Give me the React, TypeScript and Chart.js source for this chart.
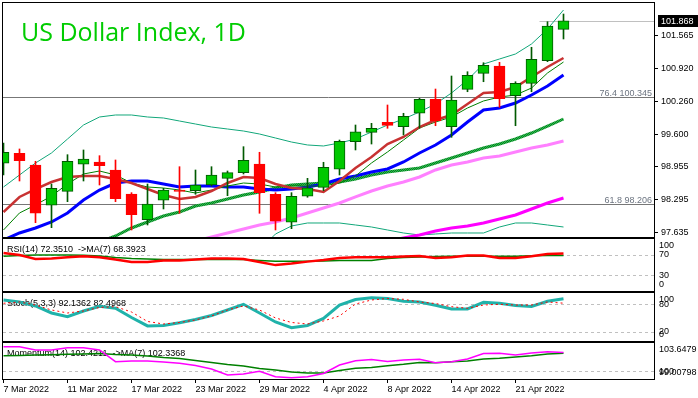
import React, { useEffect, useRef } from 'react';
import { Chart, registerables } from 'chart.js';
Chart.register(...registerables);

// ---------- data ----------
const dates = ['7 Mar 2022','8 Mar 2022','9 Mar 2022','10 Mar 2022','11 Mar 2022','14 Mar 2022','15 Mar 2022','16 Mar 2022','17 Mar 2022','18 Mar 2022','21 Mar 2022','22 Mar 2022','23 Mar 2022','24 Mar 2022','25 Mar 2022','28 Mar 2022','29 Mar 2022','30 Mar 2022','31 Mar 2022','1 Apr 2022','4 Apr 2022','5 Apr 2022','6 Apr 2022','7 Apr 2022','8 Apr 2022','11 Apr 2022','12 Apr 2022','13 Apr 2022','14 Apr 2022','18 Apr 2022','19 Apr 2022','20 Apr 2022','21 Apr 2022','22 Apr 2022','25 Apr 2022','26 Apr 2022'];
const dateTickIdx = [0, 4, 8, 12, 16, 20, 24, 28, 32];

const open = [99.019, 99.219, 98.985, 98.180, 98.459, 98.999, 99.045, 98.885, 98.406, 97.892, 98.280, 98.485, 98.471, 98.585, 98.719, 98.831, 99.005, 98.400, 97.840, 98.360, 98.539, 98.899, 99.450, 99.638, 99.838, 99.750, 100.018, 100.298, 99.750, 100.497, 100.817, 100.963, 100.370, 100.617, 101.069, 101.696];
const high = [99.424, 99.305, 99.059, 98.605, 99.191, 99.285, 99.171, 99.085, 98.432, 98.605, 98.519, 98.951, 98.885, 98.951, 98.865, 99.351, 99.239, 98.432, 98.432, 98.719, 99.039, 99.484, 99.784, 99.818, 100.184, 100.018, 100.318, 100.503, 100.763, 100.849, 101.029, 101.037, 100.649, 101.337, 101.848, 102.002];
const low = [98.785, 98.665, 97.832, 97.732, 98.252, 98.665, 98.585, 98.252, 97.686, 97.786, 98.106, 98.020, 98.400, 98.565, 98.372, 98.805, 98.020, 97.686, 97.712, 98.340, 98.471, 98.785, 99.285, 99.404, 99.718, 99.584, 99.718, 99.770, 99.538, 100.449, 100.649, 100.138, 99.770, 100.449, 101.049, 101.503];
const close = [99.239, 99.071, 98.020, 98.519, 99.059, 99.105, 98.971, 98.312, 97.992, 98.206, 98.485, 98.455, 98.585, 98.785, 98.831, 99.079, 98.432, 97.860, 98.360, 98.531, 98.939, 99.458, 99.650, 99.718, 99.778, 99.958, 100.298, 99.864, 100.284, 100.777, 100.977, 100.310, 100.617, 101.097, 101.762, 101.868];

const bbUpper = [98.545, 98.785, 99.025, 99.225, 99.504, 99.784, 99.944, 99.984, 99.984, 99.944, 99.924, 99.864, 99.804, 99.744, 99.704, 99.664, 99.604, 99.524, 99.444, 99.385, 99.365, 99.425, 99.504, 99.644, 99.784, 99.904, 100.044, 100.204, 100.424, 100.684, 101.003, 101.103, 101.203, 101.403, 101.702, 102.082];
const bbMid = [null, null, null, null, null, null, 97.447, 97.566, 97.726, 97.846, 97.966, 98.046, 98.166, 98.226, 98.305, 98.385, 98.445, 98.525, 98.585, 98.605, 98.625, 98.645, 98.705, 98.785, 98.845, 98.885, 98.925, 99.025, 99.125, 99.225, 99.325, 99.405, 99.504, 99.624, 99.764, 99.904];
const bbLower = [null, null, null, null, null, null, null, null, null, null, null, null, null, null, null, null, 97.287, 97.606, 97.766, 97.826, 97.826, 97.826, 97.786, 97.746, 97.686, 97.626, 97.586, 97.606, 97.626, 97.626, 97.626, 97.746, 97.826, 97.826, 97.786, 97.746];
const maRed = [98.046, 98.346, 98.505, 98.645, 98.745, 98.765, 98.765, 98.705, 98.625, 98.505, 98.385, 98.305, 98.346, 98.465, 98.625, 98.745, 98.725, 98.605, 98.525, 98.505, 98.445, 98.665, 98.925, 99.145, 99.404, 99.544, 99.744, 99.884, 99.984, 100.204, 100.424, 100.443, 100.543, 100.743, 100.943, 101.123];
const maThin = [97.686, 98.026, 98.186, 98.365, 98.605, 98.805, 98.865, 98.785, 98.625, 98.545, 98.525, 98.485, 98.425, 98.485, 98.565, 98.625, 98.605, 98.545, 98.565, 98.565, 98.565, 98.625, 98.765, 99.025, 99.245, 99.484, 99.724, 99.844, 99.944, 100.124, 100.264, 100.343, 100.383, 100.523, 100.823, 101.043];
const maBlue = [97.486, 97.626, 97.726, 97.846, 98.026, 98.286, 98.485, 98.625, 98.665, 98.665, 98.605, 98.545, 98.565, 98.565, 98.545, 98.545, 98.505, 98.485, 98.505, 98.545, 98.605, 98.705, 98.765, 98.845, 98.905, 99.045, 99.225, 99.385, 99.584, 99.844, 100.084, 100.124, 100.224, 100.383, 100.563, 100.783];
const maPink = [null, null, null, null, null, null, null, null, null, null, null, null, 97.467, 97.546, 97.626, 97.706, 97.786, 97.846, 97.926, 98.026, 98.126, 98.226, 98.346, 98.465, 98.565, 98.645, 98.745, 98.885, 98.985, 99.045, 99.125, 99.165, 99.245, 99.325, 99.385, 99.464];
const maMagenta = [null, null, null, null, null, null, null, null, null, null, null, null, null, null, null, null, null, null, null, null, null, null, null, null, 97.467, 97.526, 97.586, 97.666, 97.726, 97.766, 97.826, 97.906, 97.986, 98.106, 98.226, 98.325];

const priceTicks = [101.565, 100.920, 100.260, 99.600, 98.955, 98.295, 97.635];
const fibValues = [100.345, 98.206];
const fibLabels = ['76.4 100.345', '61.8 98.206'];
const lastPrice = 101.868;
const title = 'US Dollar Index, 1D';

const rsi = [72.9, 69.1, 61.4, 62.3, 64.8, 66.8, 64.8, 60.4, 55.9, 55.9, 58.5, 58.5, 60.4, 62.3, 62.3, 61.4, 55.6, 49.8, 52.7, 56.5, 59.4, 63.3, 64.8, 64.8, 64.8, 66.2, 67.1, 63.7, 64.8, 68.1, 68.1, 63.7, 63.7, 66.8, 71.0, 72.351];
const rsiMa = [66.8, 68.1, 69.1, 69.1, 69.1, 68.7, 67.1, 64.3, 62.3, 61.4, 60.4, 60.4, 60.4, 60.4, 60.4, 60.4, 58.5, 57.1, 57.1, 57.1, 57.9, 58.5, 58.5, 58.5, 62.3, 64.3, 65.6, 66.2, 66.8, 66.8, 66.8, 66.8, 66.8, 67.7, 68.1, 68.392];
const rsiLevels = [70, 30];
const rsiLabelVals = [100, 70, 30, 0];
const rsiCaption = 'RSI(14) 72.3510  ->MA(7) 68.3923';

const stochK = [89.5, 85.0, 76.4, 61.0, 52.9, 65.4, 75.7, 71.3, 51.2, 32.6, 33.7, 39.8, 46.8, 55.6, 67.6, 80.1, 61.0, 41.3, 28.8, 33.7, 49.0, 78.5, 90.6, 94.5, 92.8, 86.6, 85.1, 77.9, 69.8, 69.8, 84.5, 82.3, 77.4, 75.3, 86.6, 92.136];
const stochD = [82.3, 85.1, 78.5, 67.6, 61.0, 65.4, 73.1, 74.8, 63.2, 42.4, 36.9, 40.2, 45.7, 54.5, 67.6, 76.4, 67.6, 50.1, 40.2, 36.9, 43.5, 54.5, 80.7, 89.5, 92.8, 91.0, 85.1, 81.8, 74.8, 71.3, 78.5, 80.1, 78.5, 78.5, 85.1, 82.497];
const stochLevels = [80, 20];
const stochLabelVals = [100, 80, 20, 0];
const stochCaption = 'Stoch(5,3,3) 92.1362 82.4968';

const momentum = [103.171, 103.171, 102.746, 102.746, 103.042, 103.042, 102.746, 101.238, 101.328, 101.328, 101.199, 101.032, 100.748, 100.297, 99.524, 99.652, 100.0, 99.304, 99.175, 99.304, 99.717, 100.812, 101.367, 101.521, 101.264, 101.457, 101.547, 101.109, 101.238, 101.586, 102.295, 102.320, 102.101, 102.359, 102.527, 102.421];
const momMa = [102.011, 102.037, 102.101, 102.140, 102.191, 102.230, 102.295, 102.166, 102.101, 101.972, 101.779, 101.650, 101.392, 101.135, 100.877, 100.684, 100.361, 100.168, 99.910, 99.781, 99.781, 100.104, 100.387, 100.490, 100.722, 100.903, 101.135, 101.109, 101.238, 101.328, 101.586, 101.676, 101.843, 102.011, 102.230, 102.337];
const momLevels = [100];
const momLabelVals = [103.6479, 100, 99.00798];
const momLabelText = ['103.6479', '100', '99.00798'];
const momCaption = 'Momentum(14) 102.4211  ->MA(7) 102.3368';

// ---------- layout / style ----------
const W = 698, H = 398;
const FONT = '"Liberation Sans", Arial, sans-serif';
const AXIS_W = 44;
const X_MIN = -0.03125;
const X_MAX = X_MIN + 651 / 16;

const pts = (arr: (number | null)[]) => arr.map((v, i) => ({ x: i, y: v }));

function noPad(s: any) {
  s.paddingTop = 0; s.paddingBottom = 0; s.paddingLeft = 0; s.paddingRight = 0;
}

function stipple(): any {
  const c = document.createElement('canvas');
  c.width = 2; c.height = 2;
  const g = c.getContext('2d') as CanvasRenderingContext2D;
  g.fillStyle = '#087a24';
  g.fillRect(0, 0, 2, 2);
  g.fillStyle = '#2cc24c';
  g.fillRect(0, 0, 1, 1);
  g.fillRect(1, 1, 1, 1);
  return g.createPattern(c, 'repeat');
}

function xScale(show: boolean) {
  return {
    type: 'linear', min: X_MIN, max: X_MAX, offset: false, display: show,
    afterBuildTicks: (s: any) => { s.ticks = dateTickIdx.map((v) => ({ value: v })); },
    afterFit: (s: any) => { s.height = show ? 19 : 0; noPad(s); },
    grid: { display: true, drawOnChartArea: false, drawTicks: true, tickLength: 4, color: '#000', offset: false },
    border: { display: false },
    ticks: {
      autoSkip: false, maxRotation: 0, minRotation: 0, align: 'start', padding: 1, color: '#000',
      font: { family: FONT, size: 9 },
      callback: (v: any) => dates[Math.round(Number(v))] ?? '',
    },
  };
}

function hiddenY(min: number, max: number) {
  return {
    type: 'linear', position: 'right', min, max, display: true,
    afterFit: (s: any) => { s.width = AXIS_W; noPad(s); },
    grid: { display: false }, border: { display: false }, ticks: { display: false },
  };
}

function panelPlugin(opts: { levels?: number[]; labelVals?: number[]; labelText?: string[]; caption?: string; main?: boolean }) {
  return {
    id: 'panelDeco',
    beforeDatasetsDraw(chart: any) {
      const { ctx, chartArea: a, scales } = chart;
      const y = scales.y;
      ctx.save();
      ctx.lineWidth = 1;
      ctx.strokeStyle = '#c0c0c0';
      ctx.setLineDash([3, 3]);
      (opts.levels || []).forEach((v) => {
        const py = Math.round(y.getPixelForValue(v)) + 0.5;
        ctx.beginPath(); ctx.moveTo(a.left, py); ctx.lineTo(a.right, py); ctx.stroke();
      });
      ctx.setLineDash([]);
      if (opts.caption) {
        ctx.fillStyle = '#000';
        ctx.font = `9px ${FONT}`;
        ctx.textBaseline = 'alphabetic';
        ctx.textAlign = 'left';
        ctx.fillText(opts.caption, 7, a.top + 13);
      }
      if (opts.main) {
        ctx.fillStyle = '#00cc00';
        ctx.font = '25px "Open Sans", "Noto Sans", sans-serif';
        ctx.textAlign = 'left';
        ctx.textBaseline = 'alphabetic';
        ctx.fillText(title, 21, 41);
        ctx.strokeStyle = '#777';
        ctx.font = `9px ${FONT}`;
        fibValues.forEach((v, k) => {
          const py = Math.round(y.getPixelForValue(v)) + 0.5;
          ctx.beginPath(); ctx.moveTo(a.left, py); ctx.lineTo(a.right, py); ctx.stroke();
          ctx.fillStyle = '#6c7480';
          ctx.textAlign = 'right';
          ctx.fillText(fibLabels[k], a.right - 2, py - 2);
        });
        const x = scales.x;
        const by = Math.round(y.getPixelForValue(lastPrice)) + 0.5;
        ctx.strokeStyle = '#c0c0c0';
        ctx.beginPath(); ctx.moveTo(x.getPixelForValue(33.5), by); ctx.lineTo(a.right, by); ctx.stroke();
      }
      ctx.restore();
    },
    afterDraw(chart: any) {
      const { ctx, chartArea: a, scales } = chart;
      const y = scales.y;
      ctx.save();
      ctx.strokeStyle = '#000';
      ctx.lineWidth = 1;
      ctx.strokeRect(a.left - 0.5, a.top - 0.5, a.right - a.left + 1, a.bottom - a.top + 1);
      ctx.font = `9px ${FONT}`;
      ctx.textAlign = 'left';
      ctx.textBaseline = 'middle';
      ctx.fillStyle = '#000';
      (opts.labelVals || []).forEach((v, k) => {
        let py = y.getPixelForValue(v);
        py = Math.max(a.top + 7, Math.min(a.bottom - 6.5, py));
        const t = opts.labelText ? opts.labelText[k] : String(v);
        ctx.fillText(t, a.right + 5, py);
      });
      if (opts.main) {
        const py = Math.round(y.getPixelForValue(lastPrice));
        ctx.fillStyle = '#000';
        ctx.fillRect(a.right + 4, py - 6, W - a.right - 4, 12);
        ctx.fillStyle = '#fff';
        ctx.fillText(lastPrice.toFixed(3), a.right + 7, py + 0.5);
      }
      ctx.restore();
    },
  };
}

const baseOpts = {
  animation: false, responsive: false, maintainAspectRatio: false, events: [],
  plugins: { legend: { display: false }, tooltip: { enabled: false }, title: { display: false } },
};

function line(data: (number | null)[], color: any, width: number, order: number, dash?: number[]) {
  return {
    type: 'line', data: pts(data), borderColor: color, borderWidth: width, pointRadius: 0,
    tension: 0, order, clip: 0, spanGaps: false, borderDash: dash || [], fill: false,
  };
}

function mainConfig(): any {
  const bull = close.map((c, i) => c >= open[i]);
  const idx = dates.map((_, i) => i);
  return {
    type: 'bar',
    data: {
      datasets: [
        { type: 'bar', data: idx.map((i) => ({ x: i, y: [low[i], high[i]] })), backgroundColor: bull.map((b) => (b ? '#005a00' : '#ff0000')), barThickness: 1, grouped: false, order: 1, clip: 0 },
        { type: 'bar', data: idx.map((i) => ({ x: i, y: [open[i], close[i]] })), backgroundColor: bull.map((b) => (b ? '#00c800' : '#ff0000')), borderColor: bull.map((b) => (b ? '#005a00' : '#ff0000')), borderWidth: 1, borderSkipped: false, barThickness: 11, grouped: false, order: 0, clip: 0 },
        line(maRed, '#c83232', 2.5, 2),
        line(maThin, '#008000', 1, 3),
        line(maBlue, '#0000ff', 3, 4),
        line(bbMid, stipple(), 3, 5),
        line(maPink, '#ff80ff', 3, 6),
        line(maMagenta, '#ff00ff', 3, 7),
        line(bbUpper, '#12a77a', 1, 8),
        line(bbLower, '#12a77a', 1, 8),
      ],
    },
    options: {
      ...baseOpts,
      layout: { padding: { left: 3, top: 3, right: 0, bottom: H - 237 } },
      scales: {
        x: xScale(false),
        y: {
          type: 'linear', position: 'right', min: 97.546, max: 102.222,
          afterBuildTicks: (s: any) => { s.ticks = priceTicks.map((v) => ({ value: v })); },
          afterFit: (s: any) => { s.width = AXIS_W; noPad(s); },
          grid: { display: true, drawOnChartArea: false, tickLength: 4, color: '#000' },
          border: { display: false },
          ticks: { padding: 3, color: '#000', font: { family: FONT, size: 9 }, callback: (v: any) => Number(v).toFixed(3) },
        },
      },
    },
    plugins: [panelPlugin({ main: true })],
  };
}

function indConfig(top: number, bottom: number, min: number, max: number, datasets: any[], plug: any, showX: boolean): any {
  return {
    type: 'line',
    data: { datasets },
    options: {
      ...baseOpts,
      layout: { padding: { left: 3, top, right: 0, bottom: showX ? 0 : H - bottom } },
      scales: { x: xScale(showX), y: hiddenY(min, max) },
    },
    plugins: [plug],
  };
}

export default function App() {
  const r1 = useRef<HTMLCanvasElement>(null);
  const r2 = useRef<HTMLCanvasElement>(null);
  const r3 = useRef<HTMLCanvasElement>(null);
  const r4 = useRef<HTMLCanvasElement>(null);
  useEffect(() => {
    document.body.style.margin = '0';
    const charts: Chart[] = [];
    charts.push(new Chart(r1.current as HTMLCanvasElement, mainConfig()));
    charts.push(new Chart(r2.current as HTMLCanvasElement, indConfig(239, 291, 0, 100, [
      line(rsiMa, '#008000', 1.5, 1),
      line(rsi, '#ff0000', 2.5, 0),
    ], panelPlugin({ levels: rsiLevels, labelVals: rsiLabelVals, caption: rsiCaption }), false)));
    charts.push(new Chart(r3.current as HTMLCanvasElement, indConfig(293, 341, -0.4, 104.8, [
      line(stochK, '#20b2aa', 3, 1),
      line(stochD, '#ff0000', 1, 0, [2, 3]),
    ], panelPlugin({ levels: stochLevels, labelVals: stochLabelVals, caption: stochCaption }), false)));
    charts.push(new Chart(r4.current as HTMLCanvasElement, indConfig(343, 379, 99.00798, 103.6479, [
      line(momMa, '#008000', 1.5, 1),
      line(momentum, '#ff00ff', 1.5, 0),
    ], panelPlugin({ levels: momLevels, labelVals: momLabelVals, labelText: momLabelText, caption: momCaption }), true)));
    return () => charts.forEach((c) => c.destroy());
  }, []);
  return (
    <div style={{ position: 'relative', width: W, height: H, background: '#fff', overflow: 'hidden' }}>
      {[r1, r2, r3, r4].map((r, k) => (
        <canvas key={k} ref={r} width={W} height={H} style={{ position: 'absolute', left: 0, top: 0 }} />
      ))}
    </div>
  );
}
